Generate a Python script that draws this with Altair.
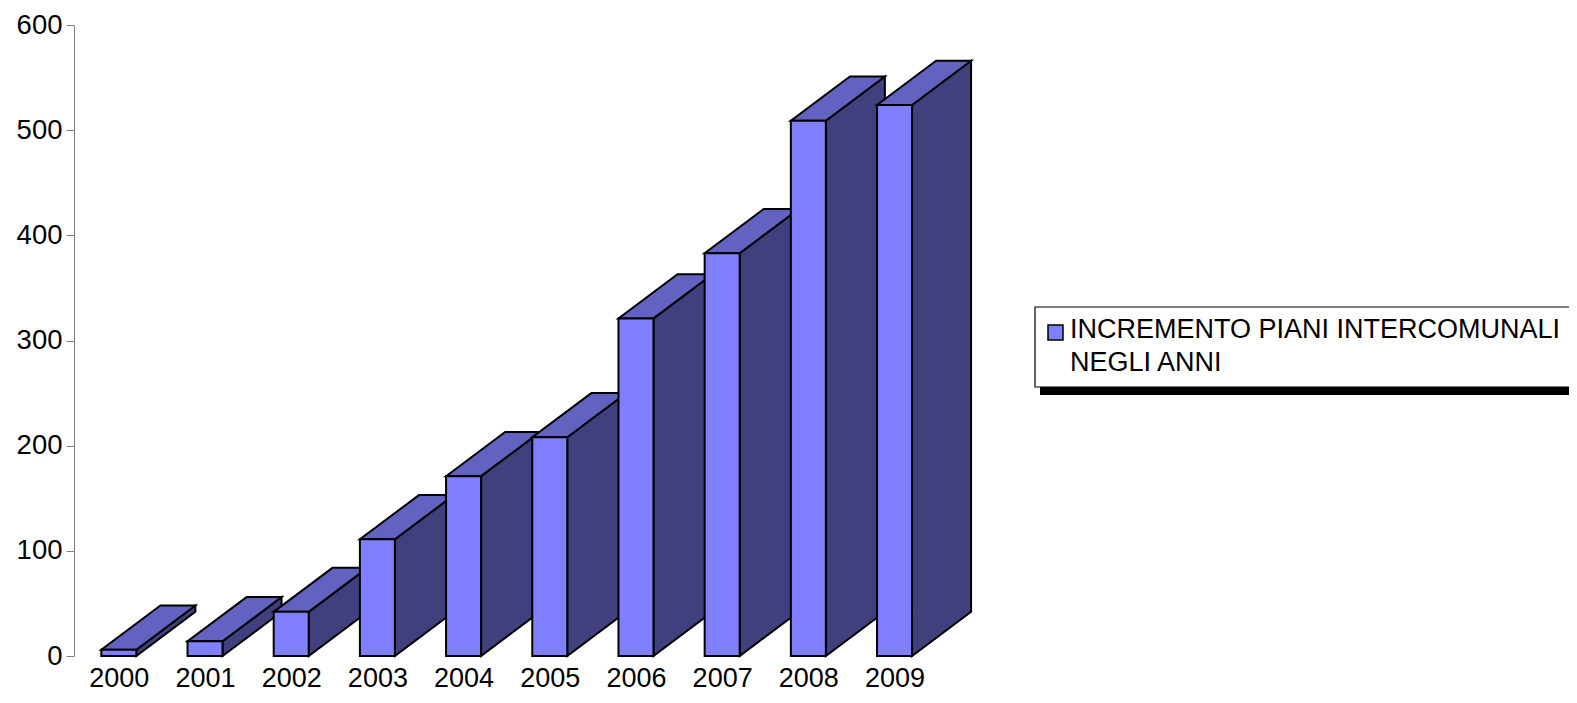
import json
import altair as alt
import pandas as pd

# ---- data ----
YEARS = ["2000", "2001", "2002", "2003", "2004", "2005", "2006", "2007", "2008", "2009"]
VALUES = [6, 14, 42, 111, 171, 208, 321, 383, 509, 524]
Y_TICKS = [0, 100, 200, 300, 400, 500, 600]
SERIES_LINES = ["INCREMENTO PIANI INTERCOMUNALI", "NEGLI ANNI"]

# ---- styling ----
FRONT = "#8080ff"
TOP = "#6262c0"
SIDE = "#40407f"
FONT = "Liberation Sans"
FS = 27.5
SW = 2
HW = 0.203   # half width of bar front (slot units)
DX = 0.685   # 3D depth, horizontal (slot units)
DY = 42      # 3D depth, vertical (value units)

centers = [i + 0.5 for i in range(len(YEARS))]

front = pd.DataFrame({
    "year": YEARS,
    "x0": [c - HW for c in centers],
    "x1": [c + HW for c in centers],
    "value": VALUES,
    "base": [0] * len(YEARS),
})

side_rows, top_rows = [], []
for y, c, v in zip(YEARS, centers, VALUES):
    side_rows.append({"year": y, "x": c + HW, "lo": 0, "hi": v})
    side_rows.append({"year": y, "x": c + HW + DX, "lo": DY, "hi": v + DY})
    top_rows.append({"year": y, "y": v, "xa": c - HW, "xb": c + HW})
    top_rows.append({"year": y, "y": v + DY, "xa": c - HW + DX, "xb": c + HW + DX})
side = pd.DataFrame(side_rows)
top = pd.DataFrame(top_rows)

xscale = alt.Scale(domain=[-0.02, 10.48], nice=False, zero=False)
yscale = alt.Scale(domain=[0, 600], nice=False)

label_expr = json.dumps(YEARS) + "[round(datum.value - 0.5)]"

x_axis = alt.Axis(
    values=centers, labelExpr=label_expr, domain=False, ticks=False, tickSize=0,
    grid=False, title=None, labelFont=FONT, labelFontSize=27, labelColor="black",
    labelPadding=9, labelAngle=0, labelFlush=False, labelOverlap=False,
)
y_axis = alt.Axis(
    values=Y_TICKS, domainColor="#808080", tickColor="#808080", tickSize=8,
    grid=False, title=None, labelFont=FONT, labelFontSize=FS, labelColor="black",
    labelPadding=4,
)

side_layer = alt.Chart(side).mark_area(
    orient="vertical", fill=SIDE, stroke="black", strokeWidth=SW, interpolate="linear"
).encode(
    x=alt.X("x:Q", scale=xscale, axis=x_axis),
    y=alt.Y("hi:Q", scale=yscale, axis=y_axis),
    y2="lo:Q",
    detail="year:N",
)

top_layer = alt.Chart(top).mark_area(
    orient="horizontal", fill=TOP, stroke="black", strokeWidth=SW, interpolate="linear"
).encode(
    y=alt.Y("y:Q", scale=yscale, axis=y_axis),
    x=alt.X("xa:Q", scale=xscale, axis=x_axis),
    x2="xb:Q",
    detail="year:N",
)

front_layer = alt.Chart(front).mark_rect(
    fill=FRONT, stroke="black", strokeWidth=SW
).encode(
    x=alt.X("x0:Q", scale=xscale, axis=x_axis),
    x2="x1:Q",
    y=alt.Y("value:Q", scale=yscale, axis=y_axis),
    y2="base:Q",
)

# ---- legend (boxed key with a drop shadow, running off the right edge) ----
one = pd.DataFrame({"k": [0]})
shadow = alt.Chart(one).mark_rect(fill="black").encode(
    x=alt.value(966), x2=alt.value(1800), y=alt.value(288), y2=alt.value(370))
box = alt.Chart(one).mark_rect(fill="white", stroke="black", strokeWidth=1.2).encode(
    x=alt.value(961), x2=alt.value(1795), y=alt.value(282), y2=alt.value(362))
marker = alt.Chart(one).mark_rect(fill=FRONT, stroke="black", strokeWidth=1.5).encode(
    x=alt.value(974), x2=alt.value(989), y=alt.value(300), y2=alt.value(315))
key_text = alt.Chart(one).mark_text(
    text=SERIES_LINES, align="left", baseline="alphabetic", font=FONT,
    fontSize=27, lineHeight=33, color="black"
).encode(x=alt.value(996), y=alt.value(313))

chart = alt.layer(
    side_layer, top_layer, front_layer, shadow, box, marker, key_text
).properties(
    width=905, height=631,
    autosize=alt.AutoSizeParams(type="none"),
    padding={"left": 66, "top": 17, "right": 590, "bottom": 36},
).configure_view(stroke=None)

chart.save("out.html", embed_options={"renderer": "svg", "actions": False})
